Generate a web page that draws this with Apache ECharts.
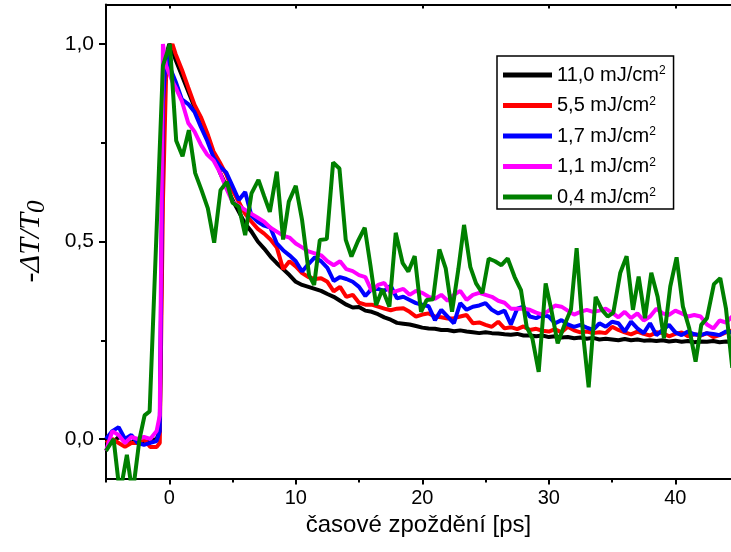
<!DOCTYPE html>
<html>
<head>
<meta charset="utf-8">
<script src="https://cdn.jsdelivr.net/npm/echarts@6/dist/echarts.min.js"></script>
<style>html,body{margin:0;padding:0;background:#fff;}#c{width:731px;height:552px;}</style>
</head>
<body>
<div id="c"></div>
<script>
// time axis (ps) shared by the four dense series
var tDense = [-5,-4.5,-4,-3.5,-3,-2.5,-2,-1.5,-1,-0.75,-0.5,-0.25,0,0.25,0.5,
  1,1.5,2,2.5,3,3.5,4,4.5,5,5.5,6,6.5,7,7.5,8,8.5,9,9.5,10,10.5,11,11.5,12,12.5,13,13.5,14,14.5,15,15.5,
  16,16.5,17,17.5,18,18.5,19,19.5,20,20.5,21,21.5,22,22.5,23,23.5,24,24.5,25,25.5,26,26.5,27,27.5,28,28.5,
  29,29.5,30,30.5,31,31.5,32,32.5,33,33.5,34,34.5,35,35.5,36,36.5,37,37.5,38,38.5,39,39.5,40,40.5,41,41.5,
  42,42.5,43,43.5,44,44.5];

var black11 = [0.0,-0.01,0.005,0.0,-0.01,0.0,-0.01,-0.005,0.0,0.02,0.75,0.97,1.0,0.985,0.96,
  0.92,0.88,0.84,0.81,0.77,0.72,0.675,0.64,0.605,0.575,0.545,0.525,0.50,0.482,0.462,0.445,0.43,0.415,0.398,0.39,0.385,0.38,0.375,0.367,0.36,0.35,0.34,0.333,0.334,0.325,
  0.322,0.316,0.308,0.302,0.294,0.292,0.29,0.286,0.282,0.28,0.279,0.276,0.276,0.273,0.275,0.272,0.27,0.268,0.27,0.268,0.267,0.265,0.264,0.266,0.262,0.262,
  0.26,0.262,0.258,0.26,0.257,0.258,0.255,0.257,0.254,0.256,0.252,0.254,0.252,0.25,0.253,0.25,0.252,0.249,0.25,0.248,0.25,0.247,0.249,0.246,0.248,0.245,
  0.247,0.246,0.248,0.245,0.247,0.246];

var red55 = [-0.01,0.0,-0.01,-0.02,-0.01,-0.01,0.0,-0.02,-0.02,-0.01,0.6,0.92,0.98,1.0,0.975,
  0.935,0.89,0.846,0.815,0.775,0.728,0.70,0.67,0.63,0.60,0.57,0.55,0.532,0.52,0.505,0.485,0.43,0.45,0.437,0.42,0.41,0.405,0.407,0.398,0.374,0.385,0.36,0.365,0.345,0.34,
  0.34,0.335,0.33,0.326,0.33,0.331,0.322,0.31,0.315,0.318,0.31,0.308,0.305,0.306,0.31,0.314,0.293,0.295,0.289,0.284,0.297,0.28,0.283,0.278,0.285,0.276,
  0.279,0.274,0.272,0.278,0.27,0.284,0.275,0.27,0.272,0.268,0.27,0.268,0.284,0.276,0.27,0.265,0.272,0.266,0.262,0.27,0.268,0.26,0.266,0.27,0.26,0.265,
  0.262,0.268,0.258,0.263,0.27,0.275];

var blue17 = [0.0,0.02,0.03,0.0,0.01,-0.01,-0.015,-0.01,-0.005,0.02,0.85,0.98,0.945,0.925,0.905,
  0.86,0.848,0.828,0.79,0.755,0.713,0.69,0.675,0.64,0.605,0.625,0.565,0.55,0.54,0.535,0.495,0.478,0.465,0.45,0.424,0.443,0.46,0.45,0.433,0.40,0.41,0.405,0.398,0.385,0.362,
  0.38,0.38,0.375,0.388,0.356,0.36,0.352,0.344,0.34,0.336,0.301,0.327,0.31,0.293,0.344,0.327,0.335,0.338,0.344,0.327,0.318,0.325,0.29,0.33,0.335,0.31,
  0.306,0.314,0.31,0.293,0.301,0.29,0.284,0.289,0.282,0.276,0.293,0.284,0.297,0.293,0.272,0.297,0.28,0.268,0.293,0.263,0.276,0.289,0.27,0.263,0.272,0.265,
  0.263,0.268,0.266,0.263,0.272,0.27];

var magenta11 = [-0.03,0.02,0.01,-0.01,0.005,0.0,0.005,0.0,0.02,0.06,1.0,0.945,0.925,0.905,0.89,
  0.855,0.80,0.778,0.745,0.72,0.705,0.675,0.635,0.60,0.59,0.58,0.57,0.56,0.55,0.535,0.525,0.515,0.51,0.495,0.485,0.475,0.47,0.465,0.45,0.44,0.45,0.43,0.425,0.415,0.41,
  0.375,0.39,0.395,0.37,0.375,0.38,0.365,0.375,0.37,0.36,0.355,0.365,0.35,0.365,0.375,0.352,0.365,0.37,0.365,0.36,0.35,0.345,0.33,0.33,0.33,0.327,
  0.32,0.315,0.325,0.338,0.335,0.325,0.315,0.322,0.327,0.322,0.325,0.33,0.32,0.308,0.322,0.306,0.318,0.30,0.31,0.33,0.318,0.314,0.325,0.318,0.31,0.314,
  0.31,0.29,0.28,0.30,0.295,0.31];

// the 0.4 mJ/cm2 series has its own, coarser time grid
var tGreen = [-5,-4.4,-3.9,-3.35,-2.9,-2.35,-1.95,-1.55,-0.5,0.05,0.55,1.05,1.55,2.05,2.55,3.05,3.55,4.05,4.55,5.0,
  5.5,6.0,6.5,7.05,7.5,7.95,8.5,9.0,9.45,10.0,10.5,11.05,11.45,11.9,12.45,12.95,13.45,13.95,14.4,14.9,
  15.45,15.9,16.35,16.85,17.4,17.9,18.45,18.9,19.4,19.9,20.35,20.85,21.35,21.85,22.35,22.85,23.3,23.8,24.25,24.75,
  25.25,25.75,26.25,26.75,27.3,27.8,28.25,28.7,29.2,29.75,30.2,30.7,31.25,31.75,32.2,32.7,33.15,33.7,34.2,34.65,
  35.1,35.65,36.15,36.65,37.1,37.6,38.1,38.6,39.1,39.6,40.1,40.6,41.1,41.6,42.05,42.5,43.05,43.55,44.0,44.5];
var green04 = [-0.03,0.0,-0.14,-0.04,-0.14,0.0,0.06,0.07,0.945,1.0,0.755,0.716,0.782,0.673,0.63,0.584,0.497,0.63,0.651,0.598,
  0.588,0.516,0.622,0.656,0.615,0.575,0.677,0.505,0.601,0.641,0.554,0.415,0.39,0.504,0.506,0.70,0.685,0.504,0.462,0.50,
  0.535,0.44,0.339,0.379,0.335,0.522,0.445,0.424,0.463,0.322,0.352,0.354,0.48,0.432,0.322,0.43,0.542,0.435,0.394,0.369,
  0.457,0.45,0.44,0.457,0.41,0.377,0.284,0.255,0.17,0.394,0.327,0.242,0.29,0.328,0.483,0.268,0.131,0.36,0.327,0.31,
  0.32,0.421,0.463,0.327,0.411,0.306,0.421,0.36,0.255,0.386,0.46,0.335,0.28,0.196,0.289,0.306,0.392,0.407,0.331,0.18];

var seriesNames = ['11,0 mJ/cm2','5,5 mJ/cm2','1,7 mJ/cm2','1,1 mJ/cm2','0,4 mJ/cm2'];
var seriesColors = ['#000000','#ff0000','#0000ff','#ff00ff','#008000'];
var xMajor = [0,10,20,30,40];
var xMinor = [-5,5,15,25,35];
var yMajor = [0,0.5,1.0];
var yMinor = [0.25,0.75];

function pairs(ts, vs){ return ts.map(function(t,i){ return [t, vs[i]]; }); }
var dataSets = [pairs(tDense,black11), pairs(tDense,red55), pairs(tDense,blue17), pairs(tDense,magenta11), pairs(tGreen,green04)];

var FONT = '"Liberation Sans", Arial, sans-serif';
var XMIN = -5, XMAX = 44.4, YMIN = -0.1, YMAX = 1.1;

var chart = echarts.init(document.getElementById('c'), null, {renderer:'canvas'});
chart.setOption({
  animation: false,
  backgroundColor: '#fff',
  grid: {left: 106, right: 0, top: 4.5, bottom: 73.5, containLabel: false},
  xAxis: [
    {type:'value', position:'bottom', min:XMIN, max:XMAX,
     axisLine:{show:true, onZero:false, lineStyle:{color:'#000', width:2}},
     axisTick:{show:true, customValues:xMajor, length:6, lineStyle:{color:'#000', width:2}},
     axisLabel:{customValues:xMajor, color:'#000', fontSize:20, fontFamily:FONT, margin:10, formatter:function(v){return String(v);}},
     splitLine:{show:false},
     name:'časové zpoždění [ps]', nameLocation:'middle', nameGap:32,
     nameTextStyle:{color:'#000', fontSize:24, fontFamily:FONT}},
    {type:'value', position:'bottom', min:XMIN, max:XMAX,
     axisLine:{show:false, onZero:false},
     axisTick:{show:true, customValues:xMinor, length:4, lineStyle:{color:'#000', width:2}},
     axisLabel:{show:false}, splitLine:{show:false}},
    {type:'value', position:'top', min:XMIN, max:XMAX,
     axisLine:{show:true, onZero:false, lineStyle:{color:'#000', width:2}},
     axisTick:{show:true, inside:true, customValues:xMajor, length:4, lineStyle:{color:'#000', width:2}},
     axisLabel:{show:false}, splitLine:{show:false}}
  ],
  yAxis: [
    {type:'value', position:'left', min:YMIN, max:YMAX,
     axisLine:{show:true, onZero:false, lineStyle:{color:'#000', width:2}},
     axisTick:{show:true, customValues:yMajor, length:7, lineStyle:{color:'#000', width:2}},
     axisLabel:{customValues:yMajor, color:'#000', fontSize:21, fontFamily:FONT, margin:12,
       formatter:function(v){ return v.toFixed(1).replace('.', ','); }},
     splitLine:{show:false},
     name:'-ΔT/T{s|0}', nameLocation:'middle', nameGap:56, nameRotate:90,
     nameTextStyle:{color:'#000', fontSize:30, fontStyle:'italic', fontFamily:'"Liberation Serif", "DejaVu Serif", serif',
       padding:[0,0,0,0],
       rich:{s:{fontSize:25, fontStyle:'italic', fontFamily:'"Liberation Serif", serif', padding:[12,0,0,0]}}}},
    {type:'value', position:'left', min:YMIN, max:YMAX,
     axisLine:{show:false, onZero:false},
     axisTick:{show:true, customValues:yMinor, length:5, lineStyle:{color:'#000', width:2}},
     axisLabel:{show:false}, splitLine:{show:false}}
  ],
  legend: {
    orient:'vertical', left:497, top:56,
    padding:[9,8,0,6], itemGap:8.5, itemWidth:49, itemHeight:5,
    backgroundColor:'#fff', borderColor:'#000', borderWidth:1.5, borderRadius:0,
    icon:'rect',
    data: seriesNames,
    formatter: function(name){ return name.slice(0, -1) + '{sup|2}'; },
    textStyle:{color:'#000', fontSize:20, fontFamily:FONT, lineHeight:20,
      rich:{sup:{fontSize:12, fontFamily:FONT, color:'#000', verticalAlign:'top', lineHeight:20, padding:[0,0,10,0]}}}
  },
  series: seriesNames.map(function(n, i){
    return {name:n, type:'line', xAxisIndex:0, yAxisIndex:0, data:dataSets[i], showSymbol:false, symbol:'none',
      clip:true, lineStyle:{color:seriesColors[i], width:4}, itemStyle:{color:seriesColors[i]}, z:2+i};
  })
});
</script>
</body>
</html>
